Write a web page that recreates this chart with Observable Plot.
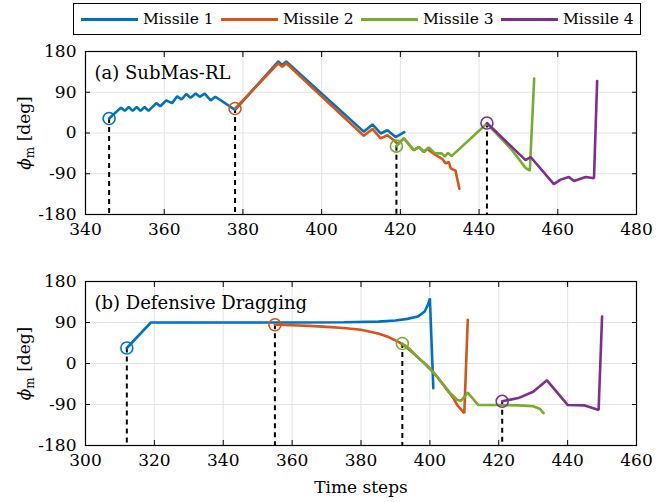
<!DOCTYPE html>
<html><head><meta charset="utf-8">
<script src="https://cdn.jsdelivr.net/npm/d3@7"></script>
<script src="https://cdn.jsdelivr.net/npm/@observablehq/plot@0.6"></script>
<style>
body{margin:0;background:#fff;font-family:"DejaVu Serif",serif;}
#wrap{position:relative;width:672px;height:502px;overflow:hidden;}
#legend{position:absolute;left:73px;top:3px;width:568px;height:32px;border:1px solid #000;box-sizing:border-box;background:#fff;}
.ll{position:absolute;top:14px;height:3px;width:57px;}
.lt{position:absolute;top:5px;font-size:15.5px;white-space:nowrap;line-height:20px;}
.panel{position:absolute;left:0;}
</style></head><body>
<div id="wrap"><div id="legend"></div><div id="pa" class="panel" style="top:40px"></div><div id="pb" class="panel" style="top:270px"></div></div>
<script>
const missiles = ["Missile 1","Missile 2","Missile 3","Missile 4"];
const colors = ["#0072BD","#D95319","#77AC30","#7E2F8E"];
const yTicks = [-180,-90,0,90,180];
const xTicksA = [340,360,380,400,420,440,460,480];
const xTicksB = [300,320,340,360,380,400,420,440,460];
const titleA = "(a) SubMas-RL";
const titleB = "(b) Defensive Dragging";
const xLabel = "Time steps";

// Panel (a) SubMas-RL : [time step, phi_m (deg)]
const a1 = [[346,32],[349,56],[350,49],[351,57.5],[352,49],[353,57.5],[354,49],[355,57.5],[356,49],[358,66],[359,59],[360.5,72],[362,66],[363.3,81],[364.4,74],[365.6,86],[366.7,78],[368,87],[369,80],[370.3,87],[371.8,72],[373,80],[378,51],[389,158],[390,150],[391,158],[410.7,3],[412.9,19],[415,-1],[416.7,6],[418.8,-9],[421,2]];
const a2 = [[378,54],[389,154],[390,146],[391,154],[410.7,-6],[412.9,9],[415,-12],[416.7,-5],[418.4,-16],[419.3,-24],[420.9,-12],[423.4,-38],[424.7,-31],[426,-42],[426.8,-35],[428.5,-46],[429.8,-53],[430.6,-57],[431.5,-67],[432.3,-64],[432.8,-78],[434,-83],[435,-123]];
const a3 = [[419,-29],[420.9,-12],[423.4,-38],[424.7,-31],[426,-42],[427.2,-32],[428.8,-45],[430.5,-45],[431.3,-52],[432.1,-44],[433,-51],[442,21],[448.4,-38],[451.8,-77],[452.9,-83],[454,120]];
const a4 = [[442,22],[451.8,-60],[453.1,-53],[459,-113],[460.7,-103],[462.8,-97],[464.1,-106],[467.1,-97],[469.2,-100],[470,115]];

// Panel (b) Defensive Dragging
const b1 = [[312,34],[319,90],[340,90],[360,90],[375,90.5],[385,92],[390,94.5],[393.5,98],[396.5,103],[398.5,114],[399.5,130],[400,143],[401,-54]];
const b2 = [[355,85],[360,84],[365,82.5],[370,80.5],[375,78],[380,74],[385,66],[388,58],[391,47],[393,37],[395,24],[397,10],[399,-3],[401,-19],[403,-38],[405,-58],[407,-78],[408,-92],[410,-109],[411,96]];
const b3 = [[392,44],[394,33],[396,18],[398,3],[400,-12],[402,-28],[404,-47],[406,-66],[408,-80],[409,-82],[411,-64],[414,-91],[420,-91],[426,-92],[430,-94],[432,-100],[433,-109]];
const b4 = [[421,-83],[426,-75],[430,-62],[434,-37],[440,-91],[445,-92],[449,-102],[450,103]];

function rows(series){
  return series.flatMap((s,i)=>s.map(([t,phi])=>({t,phi,missile:missiles[i]})));
}
function starts(series){
  return series.map((s,i)=>({t:s[0][0],phi:s[0][1],missile:missiles[i]}));
}

function panel(series, xTicks, title, showLabel, h, mb){
  const data = rows(series), st = starts(series);
  return Plot.plot({
    width:672, height:h, marginLeft:85, marginRight:36, marginTop:11, marginBottom:mb,
    style:{fontFamily:"DejaVu Serif", fontSize:"17px", color:"#000", background:"#fff"},
    x:{domain:[xTicks[0], xTicks[xTicks.length-1]]},
    y:{domain:[yTicks[0], yTicks[yTicks.length-1]]},
    color:{domain:missiles, range:colors},
    marks:[
      Plot.gridX(xTicks,{stroke:"#e3e3e3", strokeOpacity:1, strokeWidth:1}),
      Plot.gridY(yTicks,{stroke:"#e3e3e3", strokeOpacity:1, strokeWidth:1}),
      Plot.ruleX(st,{x:"t", y1:"phi", y2:()=>yTicks[0], stroke:"#000", strokeWidth:2, strokeDasharray:"5,4"}),
      Plot.line(data,{x:"t", y:"phi", z:"missile", stroke:"missile", strokeWidth:2.6, strokeLinejoin:"miter", curve:"linear"}),
      Plot.dot(st,{x:"t", y:"phi", r:6, stroke:"missile", fill:"none", strokeWidth:1.6}),
      Plot.frame({stroke:"#000", strokeWidth:1.2}),
      Plot.axisX({ticks:xTicks, tickSize:-5, tickPadding:13, tickFormat:d=>String(d), label: showLabel ? xLabel : null, labelAnchor:"center", labelArrow:"none", labelOffset:47, fontSize:17}),
      Plot.axisX({ticks:xTicks, anchor:"top", tickSize:-5, tickFormat:()=>"", label:null}),
      Plot.axisY({ticks:yTicks, tickSize:-5, tickPadding:14, tickFormat:d=>String(d), label:"ϕm [deg]", labelAnchor:"center", labelArrow:"none", labelOffset:68}),
      Plot.axisY({ticks:yTicks, anchor:"right", tickSize:-5, tickFormat:()=>"", label:null}),
      Plot.text([title],{frameAnchor:"top-left", dx:9, dy:22, text:d=>d, lineAnchor:"middle", textAnchor:"start", fontSize:18, fill:"#000"})
    ]
  });
}

const pa = panel([a1,a2,a3,a4], xTicksA, titleA, false, 230, 56);
const pb = panel([b1,b2,b3,b4], xTicksB, titleB, true, 232, 57);
document.getElementById("pa").appendChild(pa);
document.getElementById("pb").appendChild(pb);

// subscript in y label
for (const svg of [pa,pb]){
  d3.select(svg).selectAll("text").each(function(){
    const t = d3.select(this);
    if (t.text() === "ϕm [deg]"){
      t.text(null);
      t.append("tspan").text("ϕ").style("font-style","italic");
      t.append("tspan").text("m").attr("font-size","12px").attr("dy","4");
      t.append("tspan").text(" [deg]").attr("dy","-4");
    }
  });
}

// legend
const lg = document.getElementById("legend");
missiles.forEach((m,i)=>{
  const line = document.createElement("div");
  line.className="ll"; line.style.left=(7+i*140)+"px"; line.style.background=colors[i];
  const tx = document.createElement("div");
  tx.className="lt"; tx.style.left=(69+i*140)+"px"; tx.textContent=m;
  lg.appendChild(line); lg.appendChild(tx);
});
</script>
</body></html>
